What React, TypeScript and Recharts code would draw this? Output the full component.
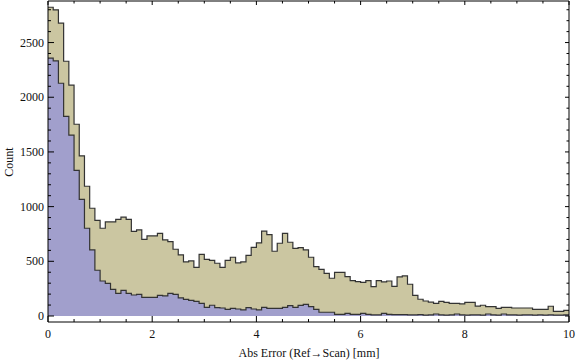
import React from "react";
import { ComposedChart, Area, XAxis, YAxis, Label } from "recharts";

// histogram bins of width 0.1 mm from 0 to 10
const BIN_WIDTH = 0.1;

const totalCounts = [
  2823, 2799, 2677, 2329, 2110, 1753, 1464, 1186, 985, 875,
  802, 860, 860, 884, 903, 884, 774, 787, 701, 732,
  732, 756, 695, 680, 610, 558, 494, 503, 445, 564,
  518, 509, 482, 445, 509, 537, 485, 494, 555, 628,
  668, 775, 744, 592, 665, 756, 674, 619, 625, 604,
  537, 451, 427, 390, 345, 399, 399, 360, 323, 314,
  308, 323, 268, 323, 311, 320, 271, 357, 366, 290,
  188, 153, 137, 126, 116, 134, 125, 116, 116, 110,
  125, 125, 91, 98, 85, 85, 70, 79, 79, 73,
  73, 73, 73, 61, 61, 61, 89, 43, 43, 52,
];

const subsetCounts = [
  2357, 2332, 2128, 1826, 1653, 1332, 1067, 802, 604, 418,
  320, 299, 244, 207, 235, 207, 192, 198, 171, 171,
  171, 189, 183, 207, 198, 165, 152, 143, 134, 116,
  79, 98, 76, 73, 61, 70, 64, 55, 76, 64,
  55, 79, 70, 70, 70, 79, 95, 79, 97, 107,
  85, 61, 34, 34, 34, 15, 15, 24, 15, 15,
  24, 15, 10, 10, 24, 15, 12, 12, 12, 10,
  10, 12, 8, 10, 18, 10, 8, 10, 18, 10,
  8, 10, 10, 8, 18, 10, 8, 18, 10, 10,
  8, 10, 10, 8, 10, 8, 10, 8, 8, 10,
];

const xMajor = [0, 2, 4, 6, 8, 10];
const xTicks = [0, 0.5, 1, 1.5, 2, 2.5, 3, 3.5, 4, 4.5, 5, 5.5, 6, 6.5, 7, 7.5, 8, 8.5, 9, 9.5, 10];
const yMajor = [0, 500, 1000, 1500, 2000, 2500];
const yTicks = Array.from({ length: 29 }, (_, i) => i * 100);

const chartData = totalCounts.map((t, i) => ({
  x: Number((i * BIN_WIDTH).toFixed(1)),
  total: t,
  subset: subsetCounts[i],
}));
chartData.push({
  x: 10,
  total: totalCounts[totalCounts.length - 1],
  subset: subsetCounts[subsetCounts.length - 1],
});

const FONT = "'Liberation Serif', 'DejaVu Serif', serif";
const INK = "#000";
const PLOT = { left: 48, right: 569, top: 1, bottom: 322 };
const Y_DOMAIN = [-55, 2880];

const BottomTick = ({ x, payload }: any) => {
  const major = xMajor.includes(payload.value);
  const y = PLOT.bottom;
  return (
    <g>
      <line x1={x} x2={x} y1={y} y2={y - (major ? 6 : 3)} stroke={INK} />
      {major && (
        <text x={x} y={y + 16} textAnchor="middle" fontFamily={FONT} fontSize={12} fill="#111">
          {payload.value}
        </text>
      )}
    </g>
  );
};

const TopTick = ({ x, payload }: any) => {
  const major = xMajor.includes(payload.value);
  const y = PLOT.top;
  return <line x1={x} x2={x} y1={y} y2={y + (major ? 4 : 2.5)} stroke={INK} />;
};

const LeftTick = ({ y, payload }: any) => {
  const major = yMajor.includes(payload.value);
  const x = PLOT.left;
  return (
    <g>
      <line x1={x} x2={x + (major ? 6 : 3)} y1={y} y2={y} stroke={INK} />
      {major && (
        <text x={x - 4} y={y + 4} textAnchor="end" fontFamily={FONT} fontSize={12} fill="#111">
          {payload.value}
        </text>
      )}
    </g>
  );
};

const RightTick = ({ y, payload }: any) => {
  const major = yMajor.includes(payload.value);
  const x = PLOT.right;
  return <line x1={x} x2={x - (major ? 4 : 2.5)} y1={y} y2={y} stroke={INK} />;
};

export default function App() {
  return (
    <div style={{ position: "absolute", left: 0, top: 0 }}>
      <ComposedChart
        width={576}
        height={362}
        data={chartData}
        margin={{ top: 0, right: 0, bottom: 0, left: 0 }}
      >
        <Area
          type="stepAfter"
          dataKey="total"
          fill="#CBC6A1"
          fillOpacity={1}
          stroke="#333"
          strokeWidth={1.2}
          baseValue={0}
          dot={false}
          activeDot={false}
          isAnimationActive={false}
        />
        <Area
          type="stepAfter"
          dataKey="subset"
          fill="#A19FCC"
          fillOpacity={1}
          stroke="#333"
          strokeWidth={1.2}
          baseValue={0}
          dot={false}
          activeDot={false}
          isAnimationActive={false}
        />
        <XAxis
          dataKey="x"
          type="number"
          domain={[0, 10]}
          ticks={xTicks}
          interval={0}
          height={362 - PLOT.bottom}
          tickLine={false}
          axisLine={{ stroke: INK }}
          tick={<BottomTick />}
          allowDataOverflow
        >
          <Label
            content={() => (
              <text x={309} y={357} textAnchor="middle" fontFamily={FONT} fontSize={12} fill="#111">
                Abs Error (Ref→Scan) [mm]
              </text>
            )}
          />
        </XAxis>
        <XAxis
          xAxisId="top"
          orientation="top"
          dataKey="x"
          type="number"
          domain={[0, 10]}
          ticks={xTicks}
          interval={0}
          height={PLOT.top}
          tickLine={false}
          axisLine={{ stroke: INK }}
          tick={<TopTick />}
          allowDataOverflow
        />
        <YAxis
          type="number"
          domain={Y_DOMAIN}
          ticks={yTicks}
          interval={0}
          width={PLOT.left}
          tickLine={false}
          axisLine={{ stroke: INK }}
          tick={<LeftTick />}
          allowDataOverflow
        >
          <Label
            content={() => (
              <text
                x={0}
                y={0}
                transform="translate(13,162) rotate(-90)"
                textAnchor="middle"
                fontFamily={FONT}
                fontSize={12}
                fill="#111"
              >
                Count
              </text>
            )}
          />
        </YAxis>
        <YAxis
          yAxisId="right"
          orientation="right"
          type="number"
          domain={Y_DOMAIN}
          ticks={yTicks}
          interval={0}
          width={576 - PLOT.right}
          tickLine={false}
          axisLine={{ stroke: INK }}
          tick={<RightTick />}
          allowDataOverflow
        />
      </ComposedChart>
    </div>
  );
}
